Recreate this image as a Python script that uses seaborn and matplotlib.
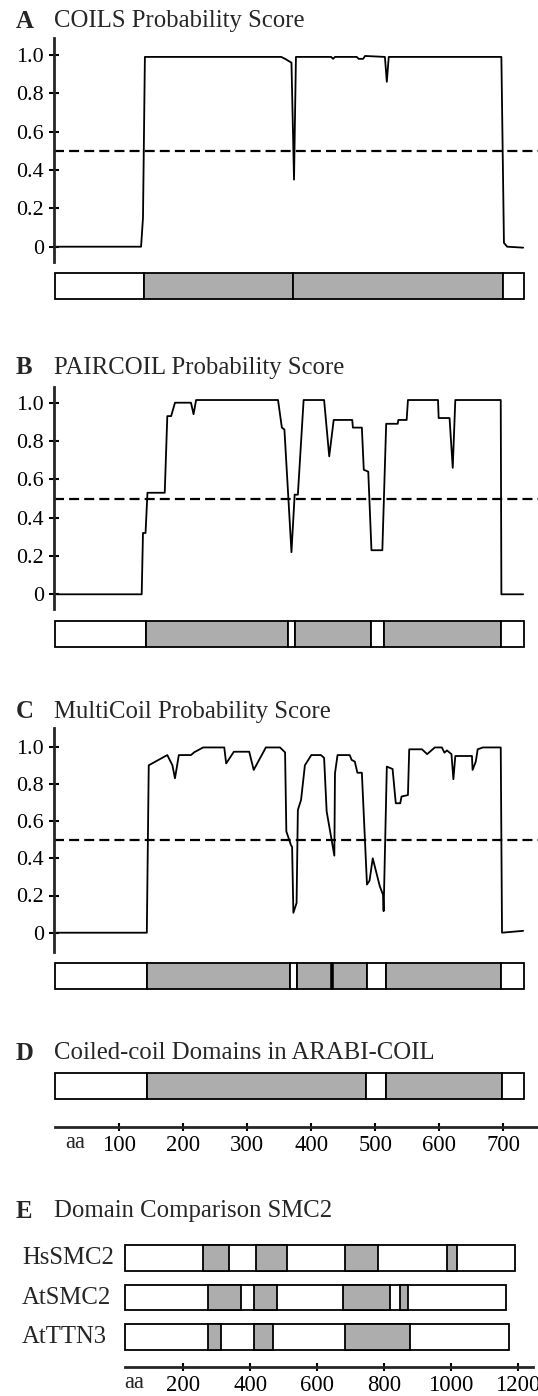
import numpy as np
import pandas as pd
import matplotlib
matplotlib.use("Agg")
import matplotlib.pyplot as plt
import matplotlib.transforms as mtransforms
import seaborn as sns

sns.set_style("white")
plt.rcParams['font.family'] = ['Liberation Serif', 'DejaVu Serif']

# ~~~~~~~~~~~~~~~~~~~~~~~~~~~~~~~~~~~~~~~~~~~~~~~~~~~~~~~~~~~~~~~~~~~~~~~~~~~~~#
# Data
# ~~~~~~~~~~~~~~~~~~~~~~~~~~~~~~~~~~~~~~~~~~~~~~~~~~~~~~~~~~~~~~~~~~~~~~~~~~~~~#
PROTEIN_LEN = 732

coils_aa = [2, 134, 137, 140, 353, 359, 369, 373, 376, 431, 434, 437, 471, 474, 481, 484,
            515, 518, 521, 697, 701, 706, 731]
coils_score = [0, 0, 0.15, 0.99, 0.99, 0.98, 0.96, 0.35, 0.99, 0.99, 0.98, 0.99, 0.99, 0.98,
               0.98, 0.995, 0.99, 0.86, 0.99, 0.99, 0.02, 0.0, -0.005]

paircoil_aa = [2, 135, 137, 141, 144, 171, 175, 181, 187, 212, 216, 220, 348, 354, 358, 369,
               374, 379, 388, 420, 428, 435, 464, 465, 479, 482, 489, 494, 511, 517, 535, 536,
               549, 551, 598, 599, 616, 621, 625, 696, 697, 731]
paircoil_score = [0, 0, 0.32, 0.32, 0.53, 0.53, 0.93, 0.93, 1.0, 1.0, 0.94, 1.014, 1.014, 0.87,
                  0.86, 0.22, 0.52, 0.52, 1.014, 1.014, 0.72, 0.91, 0.91, 0.87, 0.87, 0.65, 0.64,
                  0.23, 0.23, 0.89, 0.89, 0.91, 0.91, 1.014, 1.014, 0.92, 0.92, 0.66, 1.014,
                  1.014, 0, 0]

multicoil_aa = [2, 143, 146, 167, 175, 183, 187, 193, 212, 217, 231, 264, 267, 279, 303, 310,
                329, 351, 359, 361, 368, 370, 372, 377, 379, 384, 390, 400, 415, 420, 424, 436,
                437, 441, 460, 463, 468, 472, 479, 487, 491, 496, 507, 512, 513, 518, 527, 532,
                539, 541, 551, 553, 573, 581, 593, 604, 608, 612, 619, 622, 625, 651, 652, 657,
                660, 668, 696, 698, 731]
multicoil_score = [0, 0, 0.90, 0.94, 0.955, 0.90, 0.83, 0.955, 0.955, 0.97, 0.996, 0.996, 0.91,
                   0.973, 0.973, 0.875, 0.996, 0.996, 0.97, 0.545, 0.473, 0.46, 0.107, 0.16,
                   0.66, 0.714, 0.90, 0.955, 0.955, 0.94, 0.652, 0.414, 0.857, 0.955, 0.955,
                   0.929, 0.92, 0.86, 0.86, 0.259, 0.28, 0.40, 0.25, 0.205, 0.116, 0.893, 0.88,
                   0.696, 0.696, 0.732, 0.74, 0.986, 0.986, 0.96, 0.996, 0.996, 0.968, 0.98,
                   0.96, 0.825, 0.95, 0.95, 0.875, 0.92, 0.986, 0.996, 0.996, 0.0, 0.01]

# domain maps: segment boundaries (aa) and whether the segment is coiled-coil
coils_bounds = [0, 139, 372, 700, PROTEIN_LEN]
coils_fill = [0, 1, 1, 0]
paircoil_bounds = [0, 142, 363, 375, 494, 514, 696, PROTEIN_LEN]
paircoil_fill = [0, 1, 0, 1, 0, 1, 0]
multicoil_bounds = [0, 143, 367, 377, 433, 487, 517, 697, PROTEIN_LEN]
multicoil_fill = [0, 1, 0, 1, 1, 0, 1, 0]
multicoil_marks = [433]
arabi_bounds = [0, 143, 486, 517, 698, PROTEIN_LEN]
arabi_fill = [0, 1, 0, 1, 0]
arabi_ticks = [100, 200, 300, 400, 500, 600, 700]

smc_names = ['HsSMC2', 'AtSMC2', 'AtTTN3']
smc_start = [25, 25, 25]
smc_end = [1192, 1166, 1174]
smc_domains = [
    [(259, 337), (416, 511), (685, 781), (989, 1019)],
    [(274, 373), (411, 480), (678, 817), (848, 873)],
    [(274, 313), (411, 467), (685, 878)],
]
smc_ticks = [200, 400, 600, 800, 1000, 1200]

# ~~~~~~~~~~~~~~~~~~~~~~~~~~~~~~~~~~~~~~~~~~~~~~~~~~~~~~~~~~~~~~~~~~~~~~~~~~~~~#
# Layout helpers (pixels)
# ~~~~~~~~~~~~~~~~~~~~~~~~~~~~~~~~~~~~~~~~~~~~~~~~~~~~~~~~~~~~~~~~~~~~~~~~~~~~~#
W, H = 538, 1396
GRAY = '#adadad'
TITLE_FS = 17.8
TICK_FS = 15.8

fig = plt.figure(figsize=(W / 100, H / 100), dpi=100)


def px_axes(x0, y0, x1, y1):
    return fig.add_axes([x0 / W, 1 - y1 / H, (x1 - x0) / W, (y1 - y0) / H])


def title(letter, text, y):
    fig.text(15.5 / W, 1 - y / H, letter, fontsize=TITLE_FS, fontweight='bold', va='center')
    fig.text(54 / W, 1 - y / H, text, fontsize=TITLE_FS, va='center')


SPINE_X, AA0_X, PX_AA = 53.5, 55.3, 0.64
XLIM = ((SPINE_X - AA0_X) / PX_AA, (W - AA0_X) / PX_AA)


def domain_bar(y0, y1, bounds, fill, marks=()):
    ax = px_axes(SPINE_X, y0, W, y1)
    b = np.array(bounds)
    ax.barh(0.5, np.diff(b), left=b[:-1], height=1,
            color=[GRAY if f else 'white' for f in fill],
            edgecolor='black', linewidth=1.3, clip_on=False)
    if len(marks):
        ax.vlines(marks, 0, 1, color='black', lw=2.6)
    ax.set_xlim(*XLIM)
    ax.set_ylim(0, 1)
    ax.axis('off')
    return ax


def score_panel(aa, score, top, one, zero, bottom):
    ax = px_axes(SPINE_X, top, W, bottom)
    df = pd.DataFrame({'aa': aa, 'score': score})
    sns.lineplot(data=df, x='aa', y='score', ax=ax, color='black', lw=1.3,
                 estimator=None, sort=False)
    ax.axhline(0.5, color='black', lw=1.6, ls=(0, (4.5, 2.3)))
    ax.set_xlim(*XLIM)
    ax.set_ylim((zero - bottom) / (zero - one), (zero - top) / (zero - one))
    sns.despine(ax=ax, bottom=True)
    ax.spines['left'].set_linewidth(2)
    ax.set_xticks([])
    ax.set_yticks([0, 0.2, 0.4, 0.6, 0.8, 1.0], ['0', '0.2', '0.4', '0.6', '0.8', '1.0'])
    ax.tick_params(axis='y', left=True, direction='inout', length=7, width=1.5,
                   labelsize=TICK_FS, pad=3.5, colors='black')
    ax.set_xlabel('')
    ax.set_ylabel('')
    return ax


def scale_axis(x0, y, xlim, lo, hi, ticks, aa_x):
    ax = px_axes(x0, y - 10, W, y)
    ax.set_xlim(*xlim)
    ax.set_ylim(0, 1)
    sns.despine(ax=ax, left=True)
    ax.spines['bottom'].set_linewidth(2)
    ax.spines['bottom'].set_bounds(lo, hi)
    ax.set_yticks([])
    ax.set_xticks(ticks, [str(t) for t in ticks])
    ax.tick_params(axis='x', bottom=True, direction='inout', length=6, width=1.5,
                   labelsize=TICK_FS + 0.5, pad=3, colors='black')
    ax.text(aa_x, -0.55, 'aa', transform=ax.get_xaxis_transform(), fontsize=TICK_FS + 0.5,
            ha='center', va='top')
    ax.patch.set_alpha(0)
    return ax


# %% A - COILS
title('A', 'COILS Probability Score', 21)
score_panel(coils_aa, coils_score, 37.5, 55, 246.7, 262)
domain_bar(273, 299, coils_bounds, coils_fill)

# %% B - PAIRCOIL
title('B', 'PAIRCOIL Probability Score', 368)
score_panel(paircoil_aa, paircoil_score, 386.7, 402.7, 594.3, 609.3)
domain_bar(621, 646.7, paircoil_bounds, paircoil_fill)

# %% C - MultiCoil
title('C', 'MultiCoil Probability Score', 712)
score_panel(multicoil_aa, multicoil_score, 728.3, 746.7, 932.7, 951.7)
domain_bar(963.3, 989.3, multicoil_bounds, multicoil_fill, multicoil_marks)

# %% D - ARABI-COIL domains
title('D', 'Coiled-coil Domains in ARABI-COIL', 1053)
domain_bar(1073.3, 1099.3, arabi_bounds, arabi_fill)
scale_axis(SPINE_X, 1126.7, XLIM, 0, XLIM[1], arabi_ticks, 31)

# %% E - SMC2 comparison
title('E', 'Domain Comparison SMC2', 1211.5)
E_AA0, E_PX = 116.4, 0.3344
E_XLIM = (0, (W - E_AA0) / E_PX)
bar_h = 25.5 / 39.6
ax = px_axes(E_AA0, 1245, W, 1350)
ax.barh(range(3), np.array(smc_end) - np.array(smc_start), left=smc_start, height=bar_h,
        color='white', edgecolor='black', linewidth=1.3, clip_on=False)
for row, doms in enumerate(smc_domains):
    d = np.array(doms)
    ax.barh(row, d[:, 1] - d[:, 0], left=d[:, 0], height=bar_h, color=GRAY,
            edgecolor='black', linewidth=1.3, clip_on=False)
ax.set_xlim(*E_XLIM)
ax.set_ylim(2 + bar_h / 2, -bar_h / 2)
ax.axis('off')
trans = mtransforms.blended_transform_factory(fig.transFigure, ax.transData)
for row, name in enumerate(smc_names):
    ax.text(22 / W, row, name, transform=trans, fontsize=TITLE_FS, ha='left', va='center')
scale_axis(E_AA0, 1366.7, E_XLIM, 26, 1245, smc_ticks, 53)

fig.savefig('out.png', dpi=100, facecolor='white')
